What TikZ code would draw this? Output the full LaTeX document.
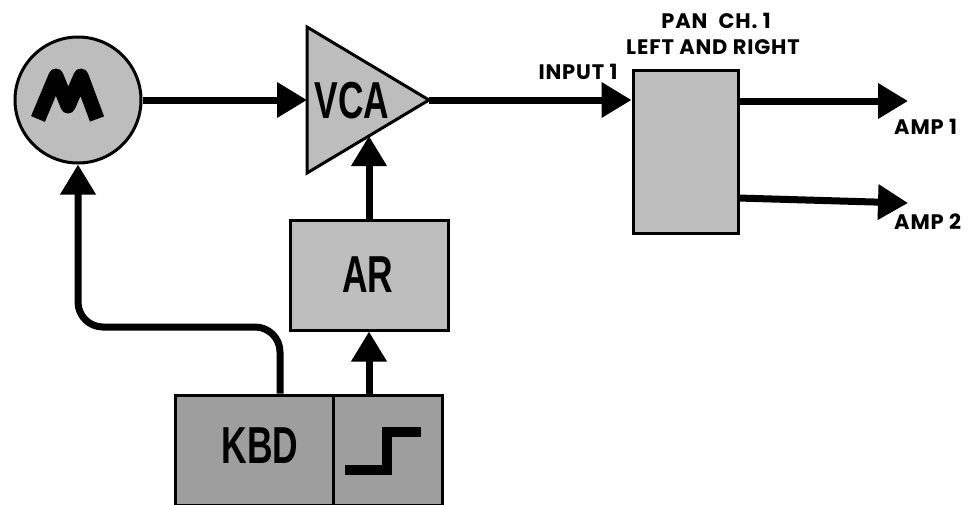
\documentclass[tikz,border=0pt]{standalone}
\usepackage{fontspec}
\setmainfont{Liberation Sans}
\newfontfamily\labfont{Poppins}[LetterSpace=4]
\usetikzlibrary{arrows.meta}
\definecolor{halflight}{gray}{0.74}
\definecolor{halfdark}{gray}{0.62}
\tikzset{
  conn/.style={line width=7pt, -{Triangle[length=30pt,width=34pt]}},
  blockbox/.style={draw, line width=3pt, fill=halflight, rectangle, inner sep=0pt},
  darkbox/.style={blockbox, fill=halfdark},
  bigtext/.style={font=\fontsize{52}{52}\selectfont\bfseries, xscale=0.68, inner sep=0pt},
  labeltext/.style={font=\labfont\bfseries\fontsize{21}{21}\selectfont, inner sep=0pt},
}
\begin{document}
\begin{tikzpicture}[x=1pt,y=-1pt]
\useasboundingbox (0,0) rectangle (968,504);
% oscillator circle
\node[draw, line width=3pt, fill=halflight, circle, minimum size=126pt, inner sep=0pt] (m) at (78,100) {};
\draw[line width=15pt, line join=round] (38,119) -- (56,76) -- (68,106) -- (81,76) -- (97,119);
% VCA triangle
\draw[line width=3pt, fill=halflight, line join=miter] (307,27) -- (429,100) -- (307,173) -- cycle;
\coordinate (vcaW) at (307,100);
\coordinate (vcaTip) at (429,100);
\coordinate (vcaB) at (369,136);
\node[bigtext] (vcalabel) at (352,101) {VCA};
% PAN box
\node[blockbox, minimum width=105pt, minimum height=163pt] (pan) at (685.5,151.5) {};
% AR box
\node[blockbox, minimum width=158pt, minimum height=110pt] (ar) at (369,275) {};
\node[bigtext] (arlabel) at (368,275) {AR};
% KBD and step
\node[darkbox, minimum width=158pt, minimum height=110pt] (kbd) at (254,450) {};
\node[bigtext] (kbdlabel) at (260,446) {KBD};
\node[darkbox, minimum width=109pt, minimum height=110pt] (step) at (387.5,450) {};
\draw[line width=10pt, line join=miter] (345,470) -- (387,470) -- (387,432) -- (421,432);
% labels
\node[labeltext] (panlab) at (716,21) {PAN\; CH. 1};
\node[labeltext] (lrlab) at (713,47.5) {LEFT AND RIGHT};
\node[labeltext] (inlab) at (578,72) {INPUT 1};
\node[labeltext, anchor=west] (amp1lab) at (894,127) {AMP 1};
\node[labeltext, anchor=west] (amp2lab) at (894,222) {AMP 2};
% coordinates for free ends
\coordinate (a1) at (908,101);
\coordinate (p2) at (738,198);
\coordinate (a2) at (908,203);
\coordinate (bendy) at (0,327);
% connectors
\draw[conn] (m.east) -- (vcaW);
\draw[conn] (vcaTip) -- (vcaTip -| pan.west);
\draw[conn] (a1 -| pan.east) -- (a1);
\draw[conn] (p2) -- (a2);
\draw[conn] (ar.north) -- (vcaB);
\draw[conn] (ar.south |- step.north) -- (ar.south);
\draw[conn, rounded corners=25pt] ([xshift=26pt]kbd.north) |- (m.south |- bendy) -- (m.south);
\end{tikzpicture}
\end{document}
